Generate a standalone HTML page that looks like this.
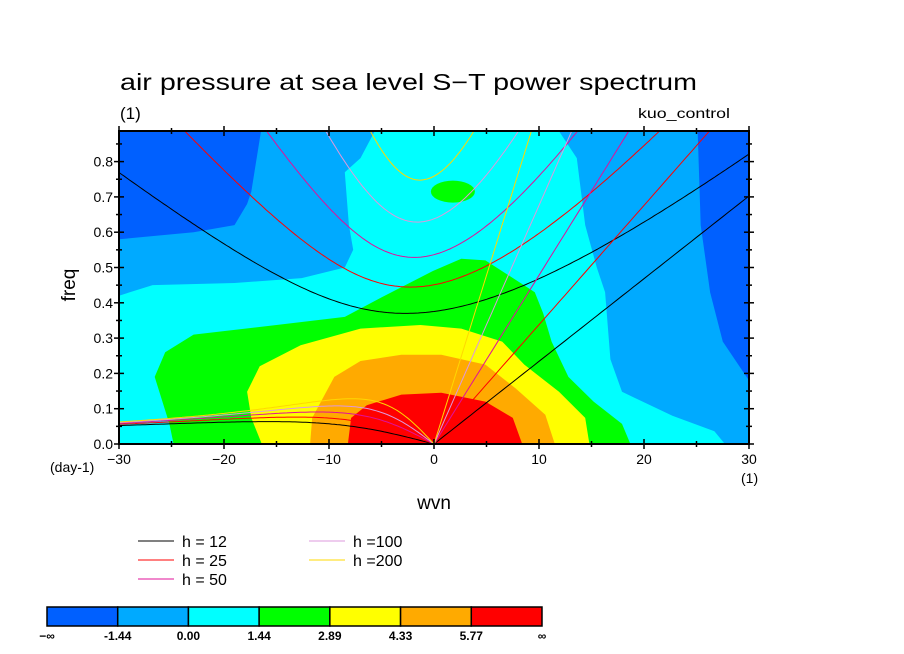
<!DOCTYPE html>
<html><head><meta charset="utf-8"><style>
html,body{margin:0;padding:0;background:#fff;}
svg{display:block;font-family:"Liberation Sans",sans-serif;}
</style></head><body>
<svg id="chart" width="904" height="654" viewBox="0 0 904 654" xmlns="http://www.w3.org/2000/svg">
<defs><clipPath id="pc"><rect x="119" y="131" width="630" height="313"/></clipPath></defs>
<g id="fills" clip-path="url(#pc)"></g>
<g id="curves" clip-path="url(#pc)"></g>
<rect x="119" y="131" width="630" height="313" fill="none" stroke="#000" stroke-width="2"/>
<g id="axes"></g>
<text x="120" y="90" font-size="23" textLength="577" lengthAdjust="spacingAndGlyphs">air pressure at sea level S−T power spectrum</text>
<text x="120" y="119" font-size="17">(1)</text>
<text x="730" y="118" font-size="14" text-anchor="end" textLength="92" lengthAdjust="spacingAndGlyphs">kuo_control</text>
<text x="0" y="0" font-size="19" transform="translate(75,285) rotate(-90)" text-anchor="middle">freq</text>
<text x="434" y="509" font-size="19" text-anchor="middle">wvn</text>
<text x="50" y="472" font-size="14">(day-1)</text>
<text x="741" y="483" font-size="14">(1)</text>
<g id="legend"></g>
<g id="cbar"></g>
</svg>
<script>
const NS="http://www.w3.org/2000/svg";
// ---- data ----
const xTicks=[-30,-20,-10,0,10,20,30];
const yTicks=[0.0,0.1,0.2,0.3,0.4,0.5,0.6,0.7,0.8];
const yTickLabels=["0.0","0.1","0.2","0.3","0.4","0.5","0.6","0.7","0.8"];
const depths=[12,25,50,100,200];
const depthColors=["#000000","#ff0000","#e0109a","#dd99dd","#ffd800"];
const levelLabels=["−∞","-1.44","0.00","1.44","2.89","4.33","5.77","∞"];
const levelColors=["#0060ff","#00aaff","#00ffff","#00ff00","#ffff00","#ffaa00","#ff0000"];
// contour region boundaries in (wvn, freq)
const darkLeftWvn=[-30,-16.4,-17.4,-17.8,-19,-22.9,-30];
const darkLeftFrq=[0.9,0.9,0.715,0.68,0.62,0.6,0.58];
const darkRightWvn=[25.1,25.4,26.3,27.5,30,30];
const darkRightFrq=[0.9,0.62,0.43,0.29,0.18,0.9];
const cyanWvn=[-30,-30,-26.8,-19,-12.6,-8.5,-7.7,-8.1,-8.5,-7,-5.4,11.6,13.6,14.4,15.5,16.3,16.8,17.9,22.7,26.7,27.7];
const cyanFrq=[0,0.42,0.45,0.456,0.47,0.5,0.55,0.62,0.77,0.81,0.9,0.9,0.81,0.62,0.5,0.43,0.24,0.148,0.08,0.036,0];
const greenWvn=[-24.8,-25.2,-26.6,-25.6,-22.9,-15,-8.5,-4.7,-0.1,2.6,4.9,7,9.6,10.4,11.2,12.8,15.2,17.9,18.7];
const greenFrq=[0,0.057,0.19,0.26,0.31,0.337,0.36,0.42,0.49,0.525,0.52,0.48,0.43,0.37,0.29,0.19,0.12,0.057,0];
const blobWvn=[1.8]; const blobFrq=[0.715];
const yellowWvn=[-16.4,-17.4,-17.8,-16.6,-12.7,-7,-1.3,2.6,6.5,8.6,11.9,14.4,14.8];
const yellowFrq=[0,0.074,0.148,0.22,0.28,0.327,0.337,0.327,0.29,0.225,0.148,0.074,0];
const orangeWvn=[-11.8,-11.6,-9.5,-7,-3.1,0.7,4.9,7.8,10.6,11.5];
const orangeFrq=[0,0.074,0.19,0.235,0.253,0.253,0.225,0.157,0.083,0];
const redWvn=[-8.2,-7.9,-6.4,-3.1,0.7,4.9,7.5,8.4];
const redFrq=[0,0.074,0.11,0.14,0.145,0.12,0.074,0];
// ---- axes ----
const X0=119,X1=749,Y0=444,YTOP=131;
const xs=w=>X0+(w+30)/60*(X1-X0);
const ys=f=>Y0-f*353;
function el(tag,attrs,parent){const e=document.createElementNS(NS,tag);for(const k in attrs)e.setAttribute(k,attrs[k]);parent.appendChild(e);return e;}
function poly(wv,fr){return wv.map((w,i)=>xs(w).toFixed(1)+","+ys(fr[i]).toFixed(1)).join(" ");}
const fills=document.getElementById('fills');
let r=el('rect',{x:X0,y:YTOP,width:X1-X0,height:Y0-YTOP,fill:levelColors[1]},fills);


const regions=[[darkLeftWvn,darkLeftFrq,0,'fill-dark-left'],[darkRightWvn,darkRightFrq,0,'fill-dark-right'],[cyanWvn,cyanFrq,2,'fill-cyan'],[greenWvn,greenFrq,3,'fill-green'],[yellowWvn,yellowFrq,4,'fill-yellow'],[orangeWvn,orangeFrq,5,'fill-orange'],[redWvn,redFrq,6,'fill-red']];
regions.forEach(([wv,fr,c,nm])=>{
  const p=el('polygon',{points:poly(wv,fr),fill:levelColors[c]},fills);
  
  
});
const b=el('ellipse',{cx:xs(blobWvn[0]),cy:ys(blobFrq[0]),rx:22,ry:11,fill:levelColors[3]},fills);


// ---- dispersion curves ----
const g=9.81,beta=2.29e-11,a=6.371e6;
function solve(kh,n,w0){let w=w0;for(let i=0;i<60;i++){const f=w*w*w-(kh*kh+2*n+1)*w-kh;const d=3*w*w-(kh*kh+2*n+1);w-=f/d;}return w;}
const curves=document.getElementById('curves');
depths.forEach((h,i)=>{
  const c=Math.sqrt(g*h),L=Math.sqrt(c/beta),T=1/Math.sqrt(c*beta);
  const toCpd=w=>w/T*86400/(2*Math.PI);
  const kOf=wv=>wv/a*L;
  let kel=[],ig=[],ros=[];
  for(let wv=0;wv<=30.001;wv+=0.5)kel.push([wv,toCpd(kOf(wv))]);
  for(let wv=-30;wv<=30.001;wv+=0.25){const k=kOf(wv);ig.push([wv,toCpd(solve(k,1,Math.sqrt(k*k+3)+0.5))]);}
  for(let wv=-30;wv<=0.001;wv+=0.25){const k=kOf(wv);ros.push([wv,toCpd(k===0?0:solve(k,1,-k/(k*k+3)))]);}
  [[kel,'kelvin'],[ig,'inertia-gravity'],[ros,'rossby']].forEach(([pts,nm])=>{
    const pl=el('polyline',{points:pts.map(p=>xs(p[0]).toFixed(1)+","+ys(p[1]).toFixed(1)).join(" "),fill:"none",stroke:depthColors[i],"stroke-width":1},curves);
    
    
  });
});
// ---- ticks ----
const axes=document.getElementById('axes');
for(let f=0;f<=0.88;f+=0.05){const maj=Math.abs(f*10-Math.round(f*10))<1e-6;const len=maj?5:3;
  el('line',{x1:X0-len,x2:X0+len,y1:ys(f),y2:ys(f),stroke:"#000","stroke-width":1.5},axes);
  el('line',{x1:X1-len,x2:X1+len,y1:ys(f),y2:ys(f),stroke:"#000","stroke-width":1.5},axes);}
for(let w=-30;w<=30;w+=5){const len=w%10===0?5:3;
  el('line',{x1:xs(w),x2:xs(w),y1:Y0-len,y2:Y0+len,stroke:"#000","stroke-width":1.5},axes);
  el('line',{x1:xs(w),x2:xs(w),y1:YTOP-len,y2:YTOP+len,stroke:"#000","stroke-width":1.5},axes);}
xTicks.forEach(w=>{const t=el('text',{x:xs(w),y:Y0+20,"font-size":14,"text-anchor":"middle"},axes);t.textContent=(w<0?"−":"")+Math.abs(w);
  
  });
yTicks.forEach((f,i)=>{const t=el('text',{x:X0-6,y:ys(f)+5,"font-size":14,"text-anchor":"end"},axes);t.textContent=yTickLabels[i];
  
  });
// ---- legend ----
const leg=document.getElementById('legend');
const legPos=[[138,541],[138,560],[138,579],[309,541],[309,560]];
const legText=["h = 12","h = 25","h = 50","h =100","h =200"];
depths.forEach((h,i)=>{const [lx,ly]=legPos[i];
  const ln=el('line',{x1:lx,x2:lx+36,y1:ly,y2:ly,stroke:depthColors[i],"stroke-width":1},leg);
  
  
  const t=el('text',{x:lx+44,y:ly+6,"font-size":16},leg);t.textContent=legText[i];
  
  });
// ---- colorbar ----
const cb=document.getElementById('cbar');
const cx0=47,cw=(542-47)/7;
levelColors.forEach((c,i)=>{const rr=el('rect',{x:cx0+i*cw,y:607,width:cw,height:19,fill:c,stroke:"#000","stroke-width":1.5},cb);
  
  });
levelLabels.forEach((l,i)=>{const t=el('text',{x:cx0+i*cw,y:640,"font-size":12,"font-weight":"bold","text-anchor":"middle"},cb);t.textContent=l;
  
  });
</script>
</body></html>
